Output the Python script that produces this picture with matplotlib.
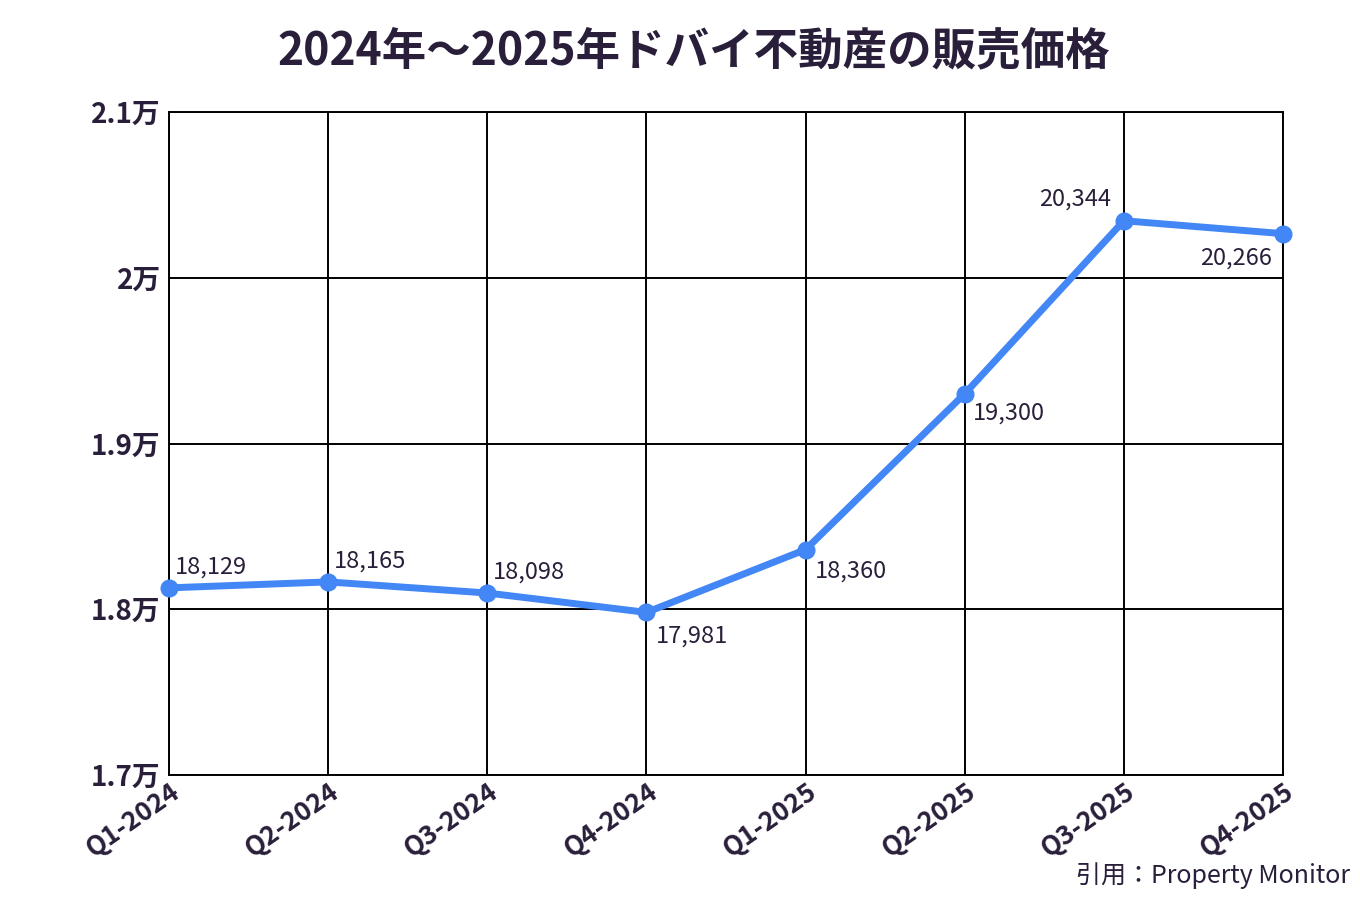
import matplotlib
matplotlib.use("Agg")
import matplotlib.pyplot as plt
import matplotlib.transforms as mtransforms

plt.rcParams['font.family'] = ['Noto Sans CJK JP', 'DejaVu Sans']

quarters = ["Q1-2024", "Q2-2024", "Q3-2024", "Q4-2024",
            "Q1-2025", "Q2-2025", "Q3-2025", "Q4-2025"]
prices = [18129, 18165, 18098, 17981, 18360, 19300, 20344, 20266]
y_ticks = [17000, 18000, 19000, 20000, 21000]
y_tick_labels = ["1.7万", "1.8万", "1.9万", "2万", "2.1万"]

text_color = "#2a1f3a"
line_color = "#4287f5"

fig = plt.figure(figsize=(13.6, 9), dpi=100)
ax = fig.add_axes([169 / 1360, 1 - 775 / 900, (1283 - 169) / 1360, (775 - 112) / 900])

x = list(range(len(quarters)))
ax.plot(x, prices, color=line_color, linewidth=5, marker="o",
        markersize=12, solid_capstyle="round", zorder=3, clip_on=False)

# label offsets in points (dx, dy, ha, va)
offsets = [(4, 7, "left", "bottom"), (4, 7, "left", "bottom"),
           (4, 7, "left", "bottom"), (7, -9, "left", "top"),
           (7, -7, "left", "top"), (6, -6, "left", "top"),
           (-9, 7, "right", "bottom"), (-8, -9, "right", "top")]
for xi, v, (dx, dy, ha, va) in zip(x, prices, offsets):
    ax.annotate(f"{v:,}", (xi, v), xytext=(dx, dy), textcoords="offset points",
                ha=ha, va=va, fontsize=17, color=text_color)

ax.set_xlim(0, len(quarters) - 1)
ax.set_ylim(17000, 21000)
ax.tick_params(axis="y", length=0, pad=6)
ax.tick_params(axis="x", length=0, pad=10)
ax.set_yticks(y_ticks)
ax.set_yticklabels(y_tick_labels, fontsize=20, fontweight="bold", color=text_color)
ax.set_xticks(x)
ax.set_xticklabels(quarters, fontsize=19, fontweight="bold", color=text_color,
                   rotation=35, ha="right", va="center", rotation_mode="anchor")
# nudge rotated labels a bit to the right
shift = mtransforms.ScaledTranslation(6 / 72, 0, fig.dpi_scale_trans)
for lbl in ax.get_xticklabels():
    lbl.set_transform(lbl.get_transform() + shift)
ax.grid(True, color="black", linewidth=1.4)
for s in ax.spines.values():
    s.set_color("black")
    s.set_linewidth(1.4)
ax.set_axisbelow(True)

fig.text(694 / 1360, 1 - 51 / 900, "2024年～2025年ドバイ不動産の販売価格",
         ha="center", va="center", fontsize=32, fontweight="bold", color=text_color)
fig.text(1350 / 1360, 1 - 876 / 900, "引用：Property Monitor",
         ha="right", va="center", fontsize=18, color=text_color)

fig.savefig("out.png", dpi=100)
